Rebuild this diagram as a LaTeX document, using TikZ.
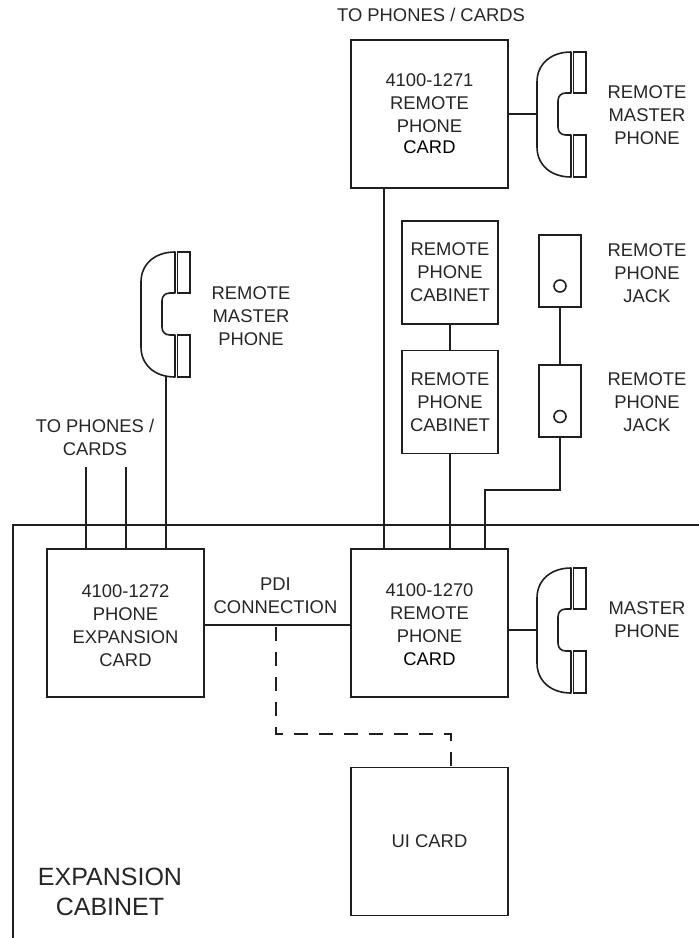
\documentclass[tikz,border=0pt]{standalone}
\usepackage{fontspec}
\setmainfont{Liberation Sans}
\usetikzlibrary{calc}
\newcommand{\loweredlines}[2]{\smash{\raisebox{#1}{\begin{tabular}{@{}c@{}}#2\end{tabular}}}}
\tikzset{
  wire/.style={line width=1.6pt,draw=black!88},
  txt/.style={text=black!85,font=\fontsize{18.4}{23}\selectfont},
  boxn/.style={wire,draw,rectangle,inner sep=0pt,align=center,txt},
  lbl/.style={align=center,inner sep=0pt,txt},
  biglbl/.style={align=center,inner sep=0pt,text=black!85,font=\fontsize{25}{30}\selectfont},
  bigcard/.style={boxn,minimum width=157pt,minimum height=148pt},
  cabbox/.style={boxn,minimum width=96pt,minimum height=103pt},
  jackbox/.style={boxn,minimum width=42pt,minimum height=72pt},
  phone/.pic={
    \coordinate (-left) at (0,62);
    \coordinate (-bottom) at (29,125);
    \draw[wire,line join=round] (34,0) .. controls (14,0) and (0,12) .. (0,30) -- (0,95)
      .. controls (0,113) and (14,125) .. (34,125) -- (34,83) -- (29,83)
      .. controls (24,83) and (21,80) .. (21,75) -- (21,49)
      .. controls (21,44) and (24,41) .. (29,41) -- (34,41) -- cycle;
    \draw[wire] (36.5,0) rectangle (49,41);
    \draw[wire] (36.5,83) rectangle (49,125);
  }
}
\begin{document}
\begin{tikzpicture}[x=1pt,y=-1pt]
\useasboundingbox (0,0) rectangle (699,938);
% cabinet outline
\coordinate (cabR) at (699,525);
\coordinate (cabC) at (13,525);
\coordinate (cabB) at (13,938);
\draw[wire] (cabR) -- (cabC) -- (cabB);
% cards
\node[bigcard] (rem) at (429.5,114) {4100-1271\\REMOTE\\PHONE\\[-2pt]\textcolor{black}{CARD}};
\node[bigcard] (main) at (429.5,623) {\loweredlines{-8pt}{4100-1270\\REMOTE\\PHONE\\\textcolor{black}{CARD}}};
\node[bigcard] (exp) at (125.5,623) {\loweredlines{-8.5pt}{4100-1272\\PHONE\\EXPANSION\\CARD}};
\node[bigcard] (ui) at (429.5,841.5) {UI CARD};
\node[cabbox] (cab1) at (450,272.5) {REMOTE\\PHONE\\CABINET};
\node[cabbox] (cab2) at (450,402) {REMOTE\\PHONE\\CABINET};
\node[jackbox] (jack1) at (560,271) {};
\node[jackbox] (jack2) at (560,401) {};
\node[wire,draw,circle,minimum size=12pt,inner sep=0pt] (hole1) at (560,286) {};
\node[wire,draw,circle,minimum size=12pt,inner sep=0pt] (hole2) at (560,416.5) {};
% phones
\pic (ph1) at (537,52) {phone};
\pic (ph2) at (141,252) {phone};
\pic (ph3) at (537,568) {phone};
% free ends
\coordinate (freeA) at (86,467);
\coordinate (freeB) at (126,467);
\coordinate (pdi) at (276,625);
\coordinate (dashA) at (276,734);
\coordinate (dashB) at (451,734);
\coordinate (jogA) at (560,490);
\coordinate (jogB) at (485,490);
% connectors
\draw[wire] (rem.east |- ph1-left) -- (ph1-left);
\draw[wire] (main.east |- ph3-left) -- (ph3-left);
\draw[wire] ([xshift=-45.5pt]rem.south) -- ([xshift=-45.5pt]main.north);
\draw[wire] (cab1.south) -- (cab2.north);
\draw[wire] (cab2.south) -- (cab2.south |- main.north);
\draw[wire] (jack1.south) -- (jack2.north);
\draw[wire] (jack2.south) -- (jogA) -- (jogB) -- (jogB |- main.north);
\draw[wire] (freeA) -- (freeA |- exp.north);
\draw[wire] (freeB) -- (freeB |- exp.north);
\draw[wire] (ph2-bottom) ++(-4,0) -- ([xshift=40.5pt]exp.north);
\draw[wire] (exp.east |- pdi) -- (main.west |- pdi);
\draw[wire,dash pattern=on 14pt off 11pt,dash phase=23.3pt] (pdi) -- (dashA) -- (dashB) -- (dashB |- ui.north);
% labels
\node[lbl] (t1) at (431,15) {TO PHONES / CARDS};
\node[lbl] (t2) at (647,115) {REMOTE\\MASTER\\PHONE};
\node[lbl] (t3) at (647,273) {REMOTE\\PHONE\\JACK};
\node[lbl] (t4) at (647,402) {REMOTE\\PHONE\\JACK};
\node[lbl] (t5) at (251,316) {REMOTE\\MASTER\\PHONE};
\node[lbl] (t6) at (95,437) {TO PHONES /\\CARDS};
\node[lbl] (t7) at (275.5,596) {PDI\\CONNECTION};
\node[lbl] (t8) at (647,620) {MASTER\\PHONE};
\node[biglbl] (t9) at (110,892) {EXPANSION\\CABINET};
\end{tikzpicture}
\end{document}
